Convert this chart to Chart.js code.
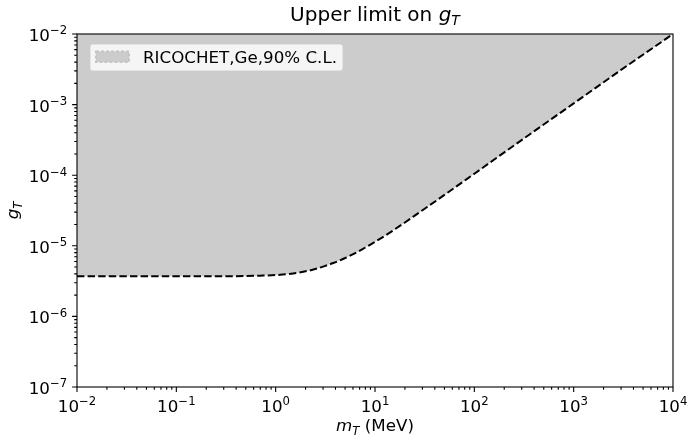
<!DOCTYPE html>
<html>
<head>
<meta charset="utf-8">
<script src="https://cdn.jsdelivr.net/npm/chart.js@4.4.1/dist/chart.umd.min.js"></script>
<style>
  html, body { margin: 0; padding: 0; background: #fff; }
  #wrap { width: 688px; height: 438px; }
</style>
</head>
<body>
<div id="wrap"><canvas id="chart" width="688" height="438"></canvas></div>
<script>
// RICOCHET (Ge) 90% C.L. upper limit on the tensor coupling vs mediator mass
const massMeV = [0.01, 0.1, 0.3, 0.7, 1.0, 1.5, 2.0, 2.4, 3.0, 3.8, 5.0, 6.1, 7.5, 9.7, 12, 15.4, 20, 24.5, 35, 50, 100, 280, 1000, 3000, 10000]
const gLimit = [3.7e-6, 3.7e-6, 3.7e-6, 3.78e-6, 3.85e-6, 4.05e-6, 4.35e-6, 4.61e-6, 5.07e-6, 5.7e-6, 6.71e-6, 7.69e-6, 8.97e-6, 1.11e-5, 1.33e-5, 1.67e-5, 2.14e-5, 2.61e-5, 3.7e-5, 5.26e-5, 1.05e-4, 2.94e-4, 1.04e-3, 3.1e-3, 1.0e-2]

const xDecades = [-2, -1, 0, 1, 2, 3, 4]
const yDecades = [-7, -6, -5, -4, -3, -2]
const legendLabel = 'RICOCHET,Ge,90% C.L.'

const FONT = '"DejaVu Sans", sans-serif'
const FS = 16.7
const TICK_MAJOR = 4.9
const TICK_MINOR = 2.8
const TICK_PAD = 4.9

// draw a run of text pieces (plain / italic / sub / sup) starting from x
function measureParts (ctx, parts, size) {
  let w = 0
  for (const p of parts) {
    ctx.font = `${p.italic ? 'italic ' : ''}${(size || FS) * (p.scale || 1)}px ${FONT}`
    w += ctx.measureText(p.t).width
  }
  return w
}

function drawParts (ctx, parts, x, y, size) {
  let cx = x
  for (const p of parts) {
    const s = (size || FS) * (p.scale || 1)
    ctx.font = `${p.italic ? 'italic ' : ''}${s}px ${FONT}`
    ctx.fillText(p.t, cx, y + (p.dy || 0))
    cx += ctx.measureText(p.t).width
  }
}

function powParts (exp) {
  const sup = (exp < 0 ? '\u2212' : '') + Math.abs(exp)
  return [{ t: '10' }, { t: sup, scale: 0.7, dy: -6.7 }]
}

const decorPlugin = {
  id: 'decor',
  afterDraw (chart) {
    const { ctx, chartArea: a, scales } = chart
    const xs = scales.x
    const ys = scales.y
    ctx.save()
    ctx.fillStyle = '#000'
    ctx.strokeStyle = '#000'
    ctx.lineWidth = 1.1
    ctx.textBaseline = 'alphabetic'
    ctx.textAlign = 'left'

    // frame
    ctx.strokeRect(a.left, a.top, a.right - a.left, a.bottom - a.top)

    // major and minor ticks
    ctx.beginPath()
    xDecades.forEach((d, i) => {
      const px = xs.getPixelForValue(Math.pow(10, d))
      ctx.moveTo(px, a.bottom)
      ctx.lineTo(px, a.bottom + TICK_MAJOR)
      if (i < xDecades.length - 1) {
        for (let k = 2; k < 10; k++) {
          const mx = xs.getPixelForValue(k * Math.pow(10, d))
          ctx.moveTo(mx, a.bottom)
          ctx.lineTo(mx, a.bottom + TICK_MINOR)
        }
      }
    })
    yDecades.forEach((d, i) => {
      const py = ys.getPixelForValue(Math.pow(10, d))
      ctx.moveTo(a.left, py)
      ctx.lineTo(a.left - TICK_MAJOR, py)
      if (i < yDecades.length - 1) {
        for (let k = 2; k < 10; k++) {
          const my = ys.getPixelForValue(k * Math.pow(10, d))
          ctx.moveTo(a.left, my)
          ctx.lineTo(a.left - TICK_MINOR, my)
        }
      }
    })
    ctx.stroke()

    xDecades.forEach(d => {
      const px = xs.getPixelForValue(Math.pow(10, d))
      const parts = powParts(d)
      const w = measureParts(ctx, parts)
      drawParts(ctx, parts, px - w / 2, a.bottom + 25)
    })
    yDecades.forEach(d => {
      const py = ys.getPixelForValue(Math.pow(10, d))
      const parts = powParts(d)
      const w = measureParts(ctx, parts)
      drawParts(ctx, parts, a.left - TICK_MAJOR - TICK_PAD - w, py + 7)
    })

    // axis labels
    const xLabel = [{ t: 'm', italic: true }, { t: 'T', italic: true, scale: 0.7, dy: 3.5 }, { t: ' (MeV)' }]
    const xw = measureParts(ctx, xLabel)
    drawParts(ctx, xLabel, (a.left + a.right) / 2 - xw / 2, 431)

    const yLabel = [{ t: 'g', italic: true }, { t: 'T', italic: true, scale: 0.7, dy: 3.5 }]
    const yw = measureParts(ctx, yLabel)
    ctx.save()
    ctx.translate(18, (a.top + a.bottom) / 2)
    ctx.rotate(-Math.PI / 2)
    drawParts(ctx, yLabel, -yw / 2, 0)
    ctx.restore()

    // title
    const TS = 20
    const title = [{ t: 'Upper limit on ' }, { t: 'g', italic: true }, { t: 'T', italic: true, scale: 0.7, dy: 4.2 }]
    const tw = measureParts(ctx, title, TS)
    drawParts(ctx, title, (a.left + a.right) / 2 - tw / 2, 21, TS)

    // legend
    const bx = 90
    const by = 44
    const bw = 253
    const bh = 27
    ctx.beginPath()
    ctx.roundRect(bx, by, bw, bh, 3)
    ctx.fillStyle = 'rgba(255,255,255,0.8)'
    ctx.fill()
    ctx.strokeStyle = 'rgba(204,204,204,0.8)'
    ctx.lineWidth = 1
    ctx.stroke()

    ctx.fillStyle = '#cccccc'
    ctx.fillRect(96, 51.5, 33, 10.5)
    ctx.setLineDash([3, 2])
    ctx.strokeStyle = '#c4c4c4'
    ctx.lineWidth = 2
    ctx.strokeRect(96, 51.5, 33, 10.5)
    ctx.setLineDash([])

    ctx.fillStyle = '#000'
    ctx.font = `${FS}px ${FONT}`
    ctx.fillText(legendLabel, 143, 63.3)

    ctx.restore()
  }
}

const points = massMeV.map((m, i) => ({ x: m, y: gLimit[i] }))

new Chart(document.getElementById('chart'), {
  type: 'line',
  data: {
    datasets: [{
      label: legendLabel,
      data: points,
      borderColor: '#000',
      borderWidth: 2,
      borderDash: [7.4, 3.2],
      backgroundColor: '#cccccc',
      fill: 'end',
      pointRadius: 0,
      cubicInterpolationMode: 'monotone'
    }]
  },
  options: {
    responsive: false,
    animation: false,
    devicePixelRatio: 1,
    layout: { padding: { left: 77, top: 34, right: 15, bottom: 51 } },
    plugins: {
      legend: { display: false },
      tooltip: { enabled: false }
    },
    scales: {
      x: {
        type: 'logarithmic',
        min: 1e-2,
        max: 1e4,
        ticks: { display: false },
        grid: { display: false },
        border: { display: false },
        afterFit (scale) { scale.height = 0 }
      },
      y: {
        type: 'logarithmic',
        min: 1e-7,
        max: 1e-2,
        ticks: { display: false },
        grid: { display: false },
        border: { display: false },
        afterFit (scale) { scale.width = 0 }
      }
    }
  },
  plugins: [decorPlugin]
})
</script>
</body>
</html>
